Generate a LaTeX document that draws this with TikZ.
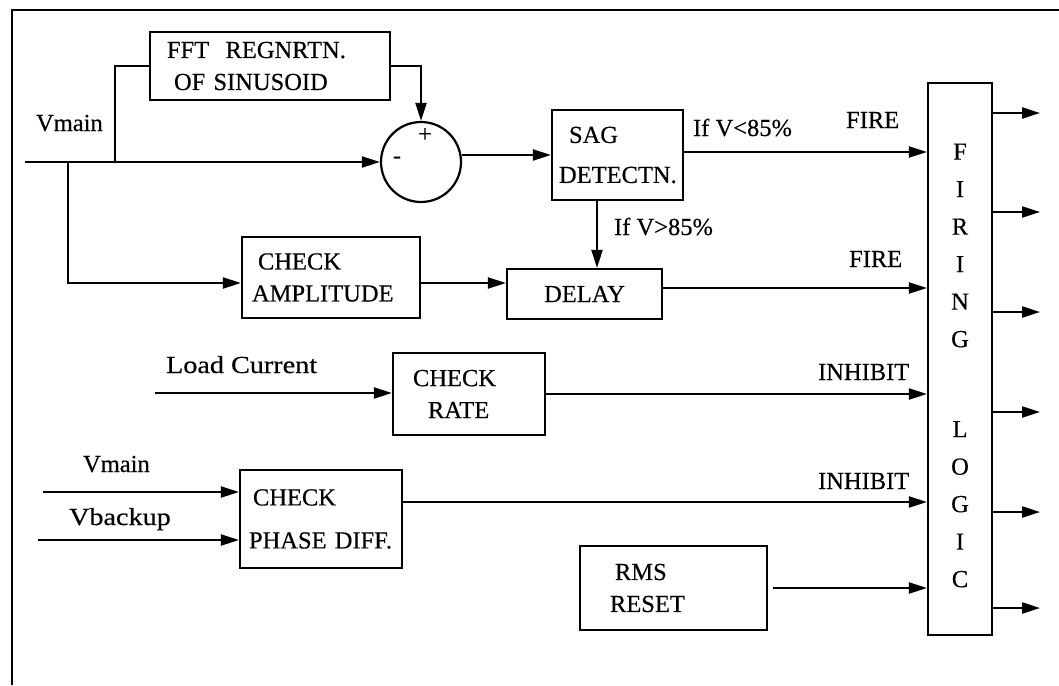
\documentclass[tikz,border=0pt]{standalone}
\usepackage{fontspec}
\setmainfont[FakeBold=0.4]{Liberation Serif}
\newfontfamily\widefont[FakeStretch=1.15,FakeBold=0.4]{Liberation Serif}
\usetikzlibrary{arrows.meta}
\begin{document}
\begin{tikzpicture}[x=1pt,y=-1pt,
  line width=2.2pt,
  arr/.style={-{Triangle[length=18pt,width=11pt]}},
  blk/.style={draw, rectangle, inner ysep=0pt, align=left, font=\fontsize{24.5}{32}\selectfont},
  lbl/.style={inner sep=0pt, anchor=base west, font=\fontsize{24.5}{28}\selectfont},
  sgn/.style={inner sep=0pt, font=\fontsize{24.5}{28}\selectfont}]
\fill[white] (0,0) rectangle (1059,685);
\useasboundingbox (0,0) rectangle (1059,685);
% frame
\draw[line width=2.8pt] (12,685) -- (12,10) -- (1059,10);

% blocks
\node[blk, minimum width=240pt, minimum height=68pt, text width=206pt, inner xsep=17pt] (fft) at (270,66) {FFT\ \ REGNRTN.\\\hspace*{7pt}OF SINUSOID};
\node[blk, minimum width=131pt, minimum height=90pt, text width=117pt, inner xsep=7pt] (sag) at (617.5,155) {\hspace*{10pt}SAG\\[8pt]DETECTN.};
\node[blk, minimum width=178pt, minimum height=81pt, text width=158pt, inner xsep=10pt] (amp) at (331,277.5) {\hspace*{6pt}CHECK\\AMPLITUDE};
\node[draw, minimum width=155pt, minimum height=50pt, font=\fontsize{24.5}{32}\selectfont] (delay) at (584.5,294) {DELAY};
\node[blk, minimum width=152pt, minimum height=82pt, text width=112pt, inner xsep=20pt] (rate) at (469,394) {CHECK\\\hspace*{15pt}RATE};
\node[blk, minimum width=162pt, minimum height=98pt, text width=144pt, inner xsep=9pt] (phase) at (321,519) {\hspace*{4pt}CHECK\\[11pt]PHASE DIFF.};
\node[blk, minimum width=187pt, minimum height=84pt, text width=127pt, inner xsep=30pt] (rms) at (673.5,588) {\hspace*{5pt}RMS\\RESET};
\node[draw, minimum width=64pt, minimum height=552pt] (firing) at (960,359) {};
\node[inner sep=0pt, align=center, font=\fontsize{24.5}{37.5}\selectfont] (firingtxt) at (960,365.5) {F\\I\\R\\I\\N\\G\\[52.5pt]L\\O\\G\\I\\C};
\node[draw, circle, minimum size=80pt, inner sep=0pt] (sum) at (421,162) {};
\node[sgn] (plus) at (425,135) {+};
\node[sgn] (minus) at (397,160) {-};

% labels
\node[lbl] (vmain1) at (35,131) {Vmain};
\node[lbl] (lt) at (692,136) {If V<85\%};
\node[lbl] (fire1) at (845,128) {FIRE};
\node[lbl] (gt) at (613,235) {If V>85\%};
\node[lbl] (fire2) at (848,267) {FIRE};
\node[lbl] (load) at (165,373) {\widefont Load Current};
\node[lbl] (inh1) at (817,380) {INHIBIT};
\node[lbl] (vmain2) at (82,472) {Vmain};
\node[lbl] (inh2) at (817,489) {INHIBIT};
\node[lbl] (vback) at (68,525) {\widefont Vbackup};

% connectors
\coordinate (vin) at (25,162);
\coordinate (j1) at (115,162);
\coordinate (j2) at (68,162);
\draw[arr] (vin) -- (sum.west);
\draw (j1) |- (fft.west);
\draw[arr] (fft.east) -| (sum.north);
\draw[arr] (sum.east |- sag.west) -- (sag.west);
\draw[arr] ([yshift=3pt]sag.east) -- ([yshift=3pt]sag.east -| firing.west);
\draw[arr] ([xshift=-20.5pt]sag.south) -- ([xshift=-20.5pt]sag.south |- delay.north);
\draw[arr] (j2) |- ([yshift=-5.5pt]amp.west);
\draw[arr] ([yshift=-5.5pt]amp.east) -- ([yshift=-5.5pt]amp.east -| delay.west);
\draw[arr] ([yshift=6pt]delay.east) -- ([yshift=6pt]delay.east -| firing.west);
\coordinate (lc) at (155,393);
\draw[arr] (lc) -- (lc -| rate.west);
\draw[arr] (rate.east) -- (rate.east -| firing.west);
\coordinate (v2) at (43,492);
\draw[arr] (v2) -- (v2 -| phase.west);
\coordinate (vb) at (38,540);
\draw[arr] (vb) -- (vb -| phase.west);
\draw[arr] ([yshift=17pt]phase.east) -- ([yshift=17pt]phase.east -| firing.west);
\draw[arr] ([xshift=5pt]rms.east) -- (rms.east -| firing.west);
\foreach \i/\y in {1/113,2/212,3/312,4/412,5/512,6/608}{
  \coordinate (o\i) at (1040,\y);
  \draw[arr] (firing.east |- o\i) -- (o\i);
}
\end{tikzpicture}
\end{document}
